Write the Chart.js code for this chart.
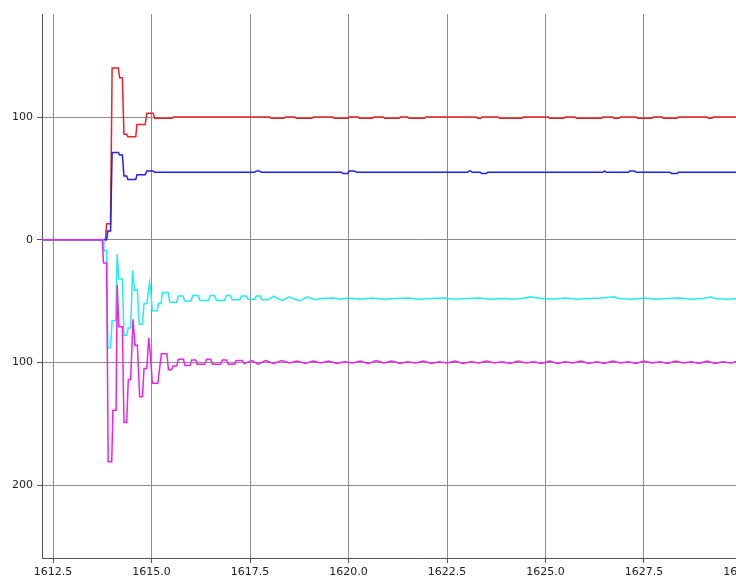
<!DOCTYPE html>
<html><head><meta charset="utf-8">
<script src="https://cdn.jsdelivr.net/npm/chart.js@4"></script>
<style>
html,body{margin:0;padding:0;overflow:hidden;background:#fff;width:736px;height:576px}
#wrap{position:absolute;left:0;top:0;width:800px;height:576px}
</style>
</head><body><div id="wrap"><canvas id="c" width="800" height="576"></canvas></div>
<script>
// ---- data (time in s, values) ----
const redT = [1612.2,1613.83,1613.86,1613.96,1614.0,1614.16,1614.19,1614.26,1614.30,1614.37,1614.40,1614.60,1614.63,1614.84,1614.88,1615.04,1615.08,1615.52,1615.56,1618.0,1618.04,1618.36,1618.40,1618.64,1618.68,1619.07,1619.11,1619.6,1619.64,1619.98,1620.02,1620.24,1620.28,1620.6,1620.64,1620.88,1620.92,1621.28,1621.32,1621.5,1621.54,1621.92,1621.96,1623.24,1623.28,1623.35,1623.39,1623.8,1623.84,1624.4,1624.44,1625.07,1625.11,1625.46,1625.5,1625.75,1625.79,1626.42,1626.46,1626.7,1626.74,1626.86,1626.9,1627.3,1627.34,1627.7,1627.74,1627.96,1628.0,1628.34,1628.38,1629.1,1629.14,1629.22,1629.26,1631.5];
const redV = [0,0,13,13,140,140,132,132,86,86,84,84,94,94,103,103,99,99,100,100,99,99,100,100,99,99,100,100,99,99,100,100,99,99,100,100,99,99,100,100,99,99,100,100,99,99,100,100,99,99,100,100,99,99,100,100,99,99,100,100,99,99,100,100,99,99,100,100,99,99,100,100,99,99,100,100];

const blueT = [1612.2,1613.86,1613.89,1613.96,1614.0,1614.16,1614.19,1614.26,1614.30,1614.37,1614.40,1614.60,1614.63,1614.84,1614.88,1615.04,1615.08,1617.62,1617.66,1617.74,1617.78,1619.82,1619.86,1619.98,1620.02,1620.16,1620.2,1623.02,1623.06,1623.1,1623.14,1623.34,1623.38,1623.5,1623.54,1626.46,1626.5,1626.54,1627.1,1627.14,1627.26,1627.3,1628.16,1628.2,1628.34,1628.38,1631.5];
const blueV = [0,0,7,7,71,71,69,69,52,52,49,49,53,53,56,56,55,55,56,56,55,55,54,54,56,56,55,55,56,56,55,55,54,54,55,55,56,55,55,56,56,55,55,54,54,55,55];

const cyanT = [1612.2,1613.77,1613.79,1613.86,1613.89,1613.96,1614.0,1614.09,1614.13,1614.17,1614.26,1614.30,1614.37,1614.41,1614.47,1614.52,1614.57,1614.64,1614.69,1614.77,1614.81,1614.88,1614.95,1614.98,1615.02,1615.14,1615.18,1615.24,1615.28,1615.42,1615.46,1615.64,1615.68,1615.8,1615.84,1616.0,1616.05,1616.18,1616.23,1616.44,1616.49,1616.6,1616.65,1616.85,1616.9,1617.0,1617.05,1617.24,1617.28,1617.4,1617.45,1617.62,1617.66,1617.76,1617.8,1617.96,1618.1,1618.2,1618.32,1618.5,1618.6,1618.76,1618.95,1619.05,1619.15,1619.3,1619.6,1619.8,1620.0,1620.3,1620.6,1620.9,1621.2,1621.5,1621.8,1622.1,1622.4,1622.7,1623.0,1623.3,1623.6,1623.9,1624.2,1624.5,1624.6,1624.9,1625.2,1625.5,1625.8,1626.1,1626.4,1626.75,1626.85,1627.2,1627.5,1627.8,1628.1,1628.4,1628.7,1629.0,1629.2,1629.3,1629.6,1630.0,1631.5];
const cyanV = [0,0,-9,-9,-88,-88,-66,-66,-12,-32,-32,-78,-78,-72,-72,-25,-41,-41,-69,-69,-52,-52,-35,-42,-58,-58,-52,-52,-43,-43,-51,-51,-46,-46,-50,-50,-45.5,-45.5,-49.5,-49.5,-45.5,-45.5,-49.5,-49.5,-45.5,-45.5,-49,-49,-46,-46,-48.5,-48.5,-46,-46,-49,-49,-46,-48,-49.5,-46.5,-48,-50,-46.5,-48,-49,-48,-47.5,-48.5,-47.5,-48.5,-47.5,-48.5,-48,-47.5,-48.5,-48,-47.5,-48.5,-48,-47.5,-48.5,-48,-48.5,-47.5,-46.5,-48,-48.5,-47.5,-48.5,-48,-47.5,-46.5,-48,-48.5,-47.5,-48.5,-48,-47.5,-48.5,-48,-46.5,-48,-48.5,-48,-48];

const magT = [1612.2,1613.75,1613.78,1613.86,1613.90,1613.99,1614.02,1614.10,1614.13,1614.17,1614.26,1614.30,1614.37,1614.41,1614.47,1614.53,1614.58,1614.64,1614.70,1614.77,1614.81,1614.88,1614.93,1614.98,1615.02,1615.16,1615.25,1615.39,1615.43,1615.51,1615.55,1615.64,1615.68,1615.81,1615.85,1615.98,1616.02,1616.12,1616.16,1616.35,1616.4,1616.5,1616.55,1616.75,1616.8,1616.9,1616.95,1617.1,1617.15,1617.3,1617.35,1617.55,1617.7,1617.9,1618.1,1618.3,1618.5,1618.7,1618.9,1619.1,1619.3,1619.5,1619.7,1619.9,1620.1,1620.3,1620.5,1620.7,1620.9,1621.1,1621.3,1621.5,1621.7,1621.9,1622.1,1622.3,1622.5,1622.7,1622.9,1623.1,1623.3,1623.5,1623.7,1623.9,1624.1,1624.3,1624.5,1624.7,1624.9,1625.1,1625.3,1625.5,1625.7,1625.9,1626.1,1626.3,1626.5,1626.7,1626.9,1627.1,1627.3,1627.5,1627.7,1627.9,1628.1,1628.3,1628.5,1628.7,1628.9,1629.1,1629.3,1629.5,1629.7,1629.9,1630.1,1631.5];
const magV = [0,0,-19,-19,-181,-181,-139,-139,-37,-71,-71,-149,-149,-114,-114,-65,-86,-86,-128,-128,-105,-105,-80,-98,-117,-117,-93,-93,-106,-106,-103,-103,-97.5,-97.5,-102.5,-102.5,-98,-98,-101.5,-101.5,-97.5,-97.5,-101.5,-101.5,-98,-98,-101.5,-101.5,-98.5,-98.5,-101,-98.5,-101.5,-98.5,-101,-98.5,-100.5,-99,-101,-99,-100.5,-99,-101,-99.5,-100.5,-99,-101,-98.5,-100.5,-99,-101,-99.5,-100.5,-99,-101,-99.5,-100.5,-99,-101,-99.5,-100.5,-99,-100.5,-99.5,-101,-99,-100.5,-99.5,-101,-99,-101,-99.5,-100.5,-99,-101,-99.5,-101,-99,-100.5,-99.5,-101,-99,-100.5,-99.5,-101,-99,-100.5,-99.5,-101,-99,-101,-99.5,-100.5,-99,-101,-100];

const xTickStep = 2.5;
const yTickStep = 100;

function pts(t, v){ return t.map((x,i)=>({x:x, y:v[i]})); }

const ctx = document.getElementById('c').getContext('2d');
new Chart(ctx, {
  type: 'line',
  data: { datasets: [
    {label:'m', data: pts(magT, magV), borderColor:'#ee22ee'},
    {label:'c', data: pts(cyanT, cyanV), borderColor:'#22eeee'},
    {label:'b', data: pts(blueT, blueV), borderColor:'#2222ee'},
    {label:'r', data: pts(redT, redV), borderColor:'#ee2222'}
  ]},
  options: {
    responsive:false, animation:false, parsing:false, normalized:true,
    layout:{padding:{top:14,left:0,right:0,bottom:0}},
    plugins:{legend:{display:false}, tooltip:{enabled:false}},
    elements:{point:{radius:0}, line:{tension:0, borderWidth:1.5, fill:false}},
    scales:{
      x:{type:'linear', min:1612.22, max:1631.46,
         afterFit(s){ s.height = 18; },
         ticks:{stepSize:xTickStep, includeBounds:false, autoSkip:false, maxRotation:0,
                callback:v=>Number(v).toFixed(1), color:'#222', padding:3,
                font:{family:'DejaVu Sans', size:11}},
         grid:{color:'#8c8c8c', tickColor:'#555', tickLength:5, lineWidth:1},
         border:{color:'#555', width:1}},
      y:{type:'linear', min:-259.5, max:184,
         afterFit(s){ s.width = 42; },
         ticks:{stepSize:yTickStep, includeBounds:false,
                callback:v=>String(Math.abs(v)), color:'#222', padding:4,
                font:{family:'DejaVu Sans', size:11}},
         grid:{color:'#8c8c8c', tickColor:'#555', tickLength:5, lineWidth:1},
         border:{color:'#555', width:1}}
    }
  }
});
</script></body></html>
